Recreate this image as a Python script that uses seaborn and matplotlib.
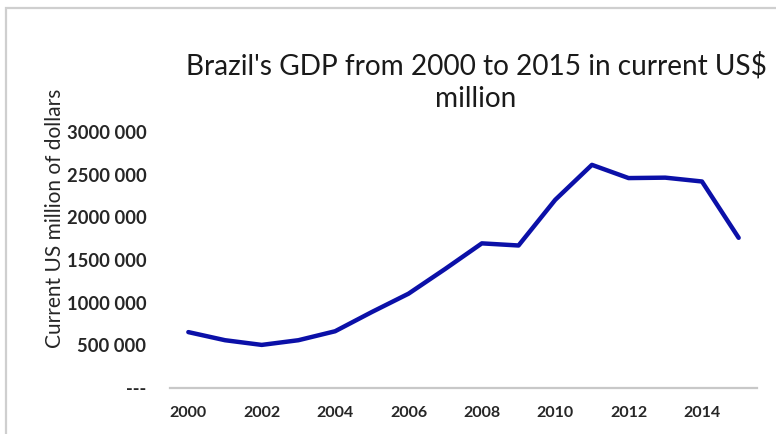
import matplotlib
matplotlib.use("Agg")
import matplotlib.pyplot as plt
import matplotlib.patches as patches
import pandas as pd
import seaborn as sns

# Brazil GDP, current US$ million
years = list(range(2000, 2016))
gdp = [655000, 560000, 505000, 560000, 665000, 890000, 1105000, 1395000,
       1695000, 1670000, 2205000, 2615000, 2460000, 2465000, 2420000, 1760000]

x_ticks = [2000, 2002, 2004, 2006, 2008, 2010, 2012, 2014]
y_ticks = [0, 500000, 1000000, 1500000, 2000000, 2500000, 3000000]
y_tick_labels = ["---", "500 000", "1000 000", "1500 000", "2000 000", "2500 000", "3000 000"]

title = "Brazil's GDP from 2000 to 2015 in current US$\nmillion"
y_label = "Current US million of dollars"

sns.set_style("white")
plt.rcParams['font.family'] = ['Lato', 'DejaVu Sans']

df = pd.DataFrame({"year": years, "gdp": gdp})

fig = plt.figure(figsize=(7.76, 4.34), dpi=100)
ax = fig.add_axes([170 / 776, 1 - 388 / 434, 587 / 776, 256 / 434])

sns.lineplot(data=df, x="year", y="gdp", ax=ax, color="#0b10a8", linewidth=3.2)

ax.set_xlim(1999.5, 2015.5)
ax.set_ylim(0, 3000000)
ax.set_xticks(x_ticks)
ax.set_xticklabels([str(y) for y in x_ticks], fontsize=11.5, fontweight="bold", color="#262626")
ax.set_yticks(y_ticks)
ax.set_yticklabels(y_tick_labels, fontsize=13.2, fontweight="bold", color="#262626")
ax.tick_params(axis="x", length=0, pad=13)
ax.tick_params(axis="y", length=0, pad=17)
ax.set_xlabel("")
ax.set_ylabel("")

for side in ["left", "right", "top"]:
    ax.spines[side].set_visible(False)
ax.spines["bottom"].set_color("#c8c8c8")
ax.spines["bottom"].set_linewidth(1.6)

fig.text(476 / 776, 1 - 82 / 434, title, ha="center", va="center",
         fontsize=20.2, color="#1a1a1a", linespacing=1.3)
fig.text(55 / 776, 1 - 218 / 434, y_label, ha="center", va="center",
         rotation=90, fontsize=15, color="#262626")

# outer chart frame (only left and top edges visible in the crop)
frame = patches.Rectangle((6 / 776, -0.1), 1.2, 1 - 8 / 434 + 0.1,
                          transform=fig.transFigure, fill=False,
                          edgecolor="#cfcfcf", linewidth=1.6)
fig.add_artist(frame)

fig.savefig("out.png", dpi=100)
